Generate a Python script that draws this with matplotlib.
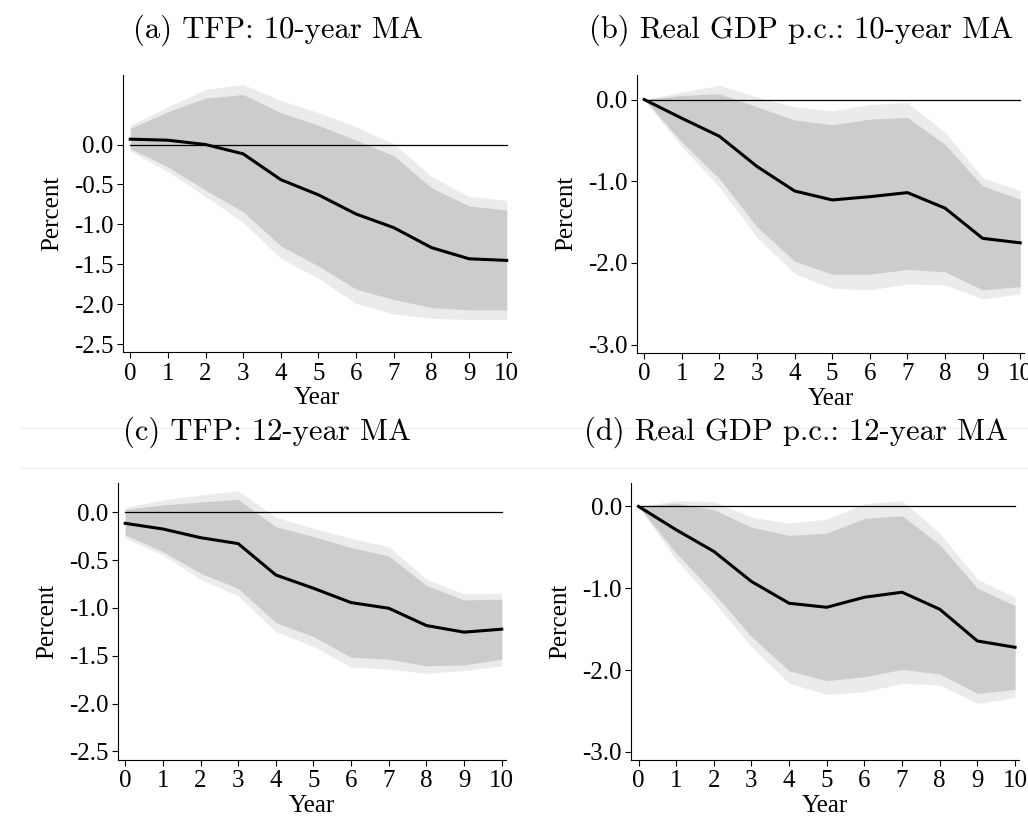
#Impulse responses: TFP and real GDP p.c., 10- and 12-year MA

import numpy as np
import matplotlib
matplotlib.use('Agg')
import matplotlib.pyplot as plt
from matplotlib.lines import Line2D

plt.rcParams['font.family'] = 'Liberation Serif'
plt.rcParams['axes.unicode_minus'] = False

years = np.arange(0, 11)

#(a) TFP: 10-year MA
tfp10_irf = [0.067, 0.054, 0.0, -0.117, -0.44, -0.63, -0.87, -1.04, -1.29, -1.43, -1.45]
tfp10_hi68 = [0.20, 0.41, 0.58, 0.625, 0.40, 0.24, 0.054, -0.14, -0.54, -0.77, -0.82]
tfp10_lo68 = [-0.05, -0.28, -0.57, -0.84, -1.27, -1.52, -1.81, -1.94, -2.04, -2.07, -2.07]
tfp10_hi90 = [0.24, 0.47, 0.69, 0.75, 0.55, 0.40, 0.22, 0.01, -0.40, -0.65, -0.70]
tfp10_lo90 = [-0.08, -0.34, -0.65, -0.975, -1.425, -1.675, -1.99, -2.12, -2.175, -2.19, -2.19]

#(b) Real GDP p.c.: 10-year MA
gdp10_irf = [0.0, -0.23, -0.45, -0.82, -1.12, -1.23, -1.19, -1.14, -1.33, -1.70, -1.755]
gdp10_hi68 = [0.0, 0.05, 0.07, -0.09, -0.25, -0.31, -0.24, -0.22, -0.55, -1.06, -1.22]
gdp10_lo68 = [0.0, -0.52, -0.97, -1.56, -1.98, -2.14, -2.14, -2.08, -2.11, -2.33, -2.29]
gdp10_hi90 = [0.0, 0.09, 0.175, 0.03, -0.09, -0.14, -0.06, -0.04, -0.40, -0.955, -1.12]
gdp10_lo90 = [0.0, -0.58, -1.07, -1.69, -2.13, -2.31, -2.33, -2.26, -2.27, -2.44, -2.38]

#(c) TFP: 12-year MA
tfp12_irf = [-0.115, -0.174, -0.265, -0.327, -0.655, -0.794, -0.944, -1.003, -1.184, -1.253, -1.222]
tfp12_hi68 = [0.031, 0.077, 0.108, 0.136, -0.15, -0.254, -0.369, -0.456, -0.766, -0.916, -0.909]
tfp12_lo68 = [-0.237, -0.41, -0.637, -0.794, -1.153, -1.30, -1.515, -1.536, -1.605, -1.595, -1.536]
tfp12_hi90 = [0.052, 0.129, 0.181, 0.226, -0.052, -0.167, -0.272, -0.359, -0.70, -0.853, -0.846]
tfp12_lo90 = [-0.272, -0.446, -0.70, -0.874, -1.247, -1.403, -1.619, -1.64, -1.682, -1.654, -1.605]

#(d) Real GDP p.c.: 12-year MA
gdp12_irf = [0.0, -0.286, -0.55, -0.918, -1.184, -1.233, -1.11, -1.049, -1.257, -1.645, -1.722]
gdp12_hi68 = [0.0, 0.04, -0.04, -0.253, -0.355, -0.327, -0.147, -0.114, -0.469, -1.0, -1.212]
gdp12_lo68 = [0.0, -0.571, -1.061, -1.592, -2.008, -2.131, -2.082, -1.992, -2.049, -2.286, -2.237]
gdp12_hi90 = [0.0, 0.069, 0.061, -0.131, -0.204, -0.155, 0.033, 0.069, -0.327, -0.89, -1.114]
gdp12_lo90 = [0.0, -0.653, -1.163, -1.714, -2.163, -2.298, -2.265, -2.163, -2.184, -2.408, -2.335]

titles = ['(a) TFP: 10-year MA', '(b) Real GDP p.c.: 10-year MA',
          '(c) TFP: 12-year MA', '(d) Real GDP p.c.: 12-year MA']

W, H = 1028, 816
fig = plt.figure(figsize=(W/100, H/100), dpi=100)


def px_axes(left, right, top, bottom):
    return fig.add_axes([left/W, 1 - bottom/H, (right-left)/W, (bottom-top)/H])


def irf_panel(ax, irf, lo90, hi90, lo68, hi68, yticks, ylim):
    ax.fill_between(years, lo90, hi90, color='#ebebeb', lw=0)
    ax.fill_between(years, lo68, hi68, color='#cccccc', lw=0)
    ax.plot([0, 10], [0, 0], color='black', lw=0.9)
    ax.plot(years, irf, color='black', lw=2.2)
    ax.set_xlim(-0.2, 10.1)
    ax.set_ylim(*ylim)
    ax.set_xticks(years)
    ax.set_yticks(yticks)
    ax.set_yticklabels(['%.1f' % v for v in yticks])
    ax.spines['top'].set_visible(False)
    ax.spines['right'].set_visible(False)
    ax.tick_params(direction='out', length=4.5, width=0.8, labelsize=18)
    ax.tick_params(axis='x', pad=3)
    ax.tick_params(axis='y', pad=2)
    ax.set_xlabel('Year', fontsize=18, labelpad=2)
    ax.set_ylabel('Percent', fontsize=18, labelpad=8)


tfp_ticks = [0.0, -0.5, -1.0, -1.5, -2.0, -2.5]
gdp_ticks = [0.0, -1.0, -2.0, -3.0]

ax1 = px_axes(122.7, 510.5, 75, 352.3)
irf_panel(ax1, tfp10_irf, tfp10_lo90, tfp10_hi90, tfp10_lo68, tfp10_hi68, tfp_ticks, (-2.6, 0.87))

ax2 = px_axes(636.7, 1024.0, 75, 352.7)
irf_panel(ax2, gdp10_irf, gdp10_lo90, gdp10_hi90, gdp10_lo68, gdp10_hi68, gdp_ticks, (-3.1, 0.30))

ax3 = px_axes(117.7, 505.5, 482.7, 760)
irf_panel(ax3, tfp12_irf, tfp12_lo90, tfp12_hi90, tfp12_lo68, tfp12_hi68, tfp_ticks, (-2.59, 0.31))

ax4 = px_axes(631, 1018.8, 482.7, 760)
irf_panel(ax4, gdp12_irf, gdp12_lo90, gdp12_hi90, gdp12_lo68, gdp12_hi68, gdp_ticks, (-3.1, 0.29))

#panel titles
title_pos = [(278, 30), (801, 30), (267, 432), (796, 432)]
for t, (x, y) in zip(titles, title_pos):
    fig.text(x/W, 1 - y/H, t, fontsize=22, family='cmr10', ha='center', va='center')

#faint separator lines around the lower titles
for y in [428, 468]:
    fig.add_artist(Line2D([20/W, 1], [1 - y/H, 1 - y/H], color='#f0f0f0', lw=0.8))

fig.savefig('out.png', dpi=100)
